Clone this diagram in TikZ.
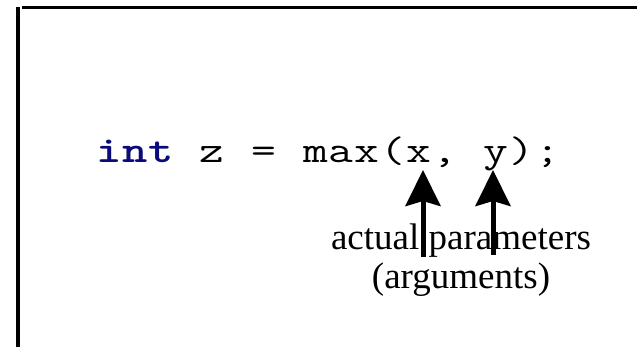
\documentclass[tikz,border=0pt]{standalone}
\usepackage{fontspec}
\setmainfont{Liberation Serif}
\usetikzlibrary{arrows.meta}
\definecolor{kwnavy}{RGB}{10,10,120}
\newcommand\mcell[1]{\makebox[25.8bp][c]{\scalebox{1.3}[1]{#1}}}
\tikzset{
  frameline/.style={line width=3.5bp, black},
  argarrow/.style={line width=5bp, -{Stealth[length=36bp,width=35bp,inset=5bp]}},
  codetext/.style={inner sep=0pt, font=\ttfamily\fontsize{37bp}{44bp}\selectfont},
  labeltext/.style={inner sep=0pt, align=center, font=\fontsize{37bp}{39bp}\selectfont}
}
\begin{document}
\begin{tikzpicture}[x=1bp,y=-1bp]
\useasboundingbox (0,0) rectangle (637,347);
% frame
\coordinate (fl1) at (18,347);
\coordinate (fl2) at (18,7);
\coordinate (ft1) at (22,7.5);
\coordinate (ft2) at (640,7.5);
\draw[frameline] (fl1) -- (fl2);
\draw[frameline] (ft1) -- (ft2);
% code line
\node[codetext, anchor=base west] (code) at (96,162)
  {{\color{kwnavy}\bfseries\mcell{i}\mcell{n}\mcell{t}}\mcell{}\mcell{z}\mcell{}\mcell{=}\mcell{}\mcell{m}\mcell{a}\mcell{x}\mcell{(}\mcell{x}\mcell{,}\mcell{}\mcell{y}\mcell{)}\mcell{;}};
% label
\node[labeltext, anchor=base] (lab) at (461,288)
  {actual parameters\\(arguments)};
% arrows
\coordinate (xs) at (423,257);
\coordinate (xe) at (423,170);
\coordinate (ys) at (493,255);
\coordinate (ye) at (493,170);
\draw[argarrow] (xs) -- (xe);
\draw[argarrow] (ys) -- (ye);
\end{tikzpicture}
\end{document}
